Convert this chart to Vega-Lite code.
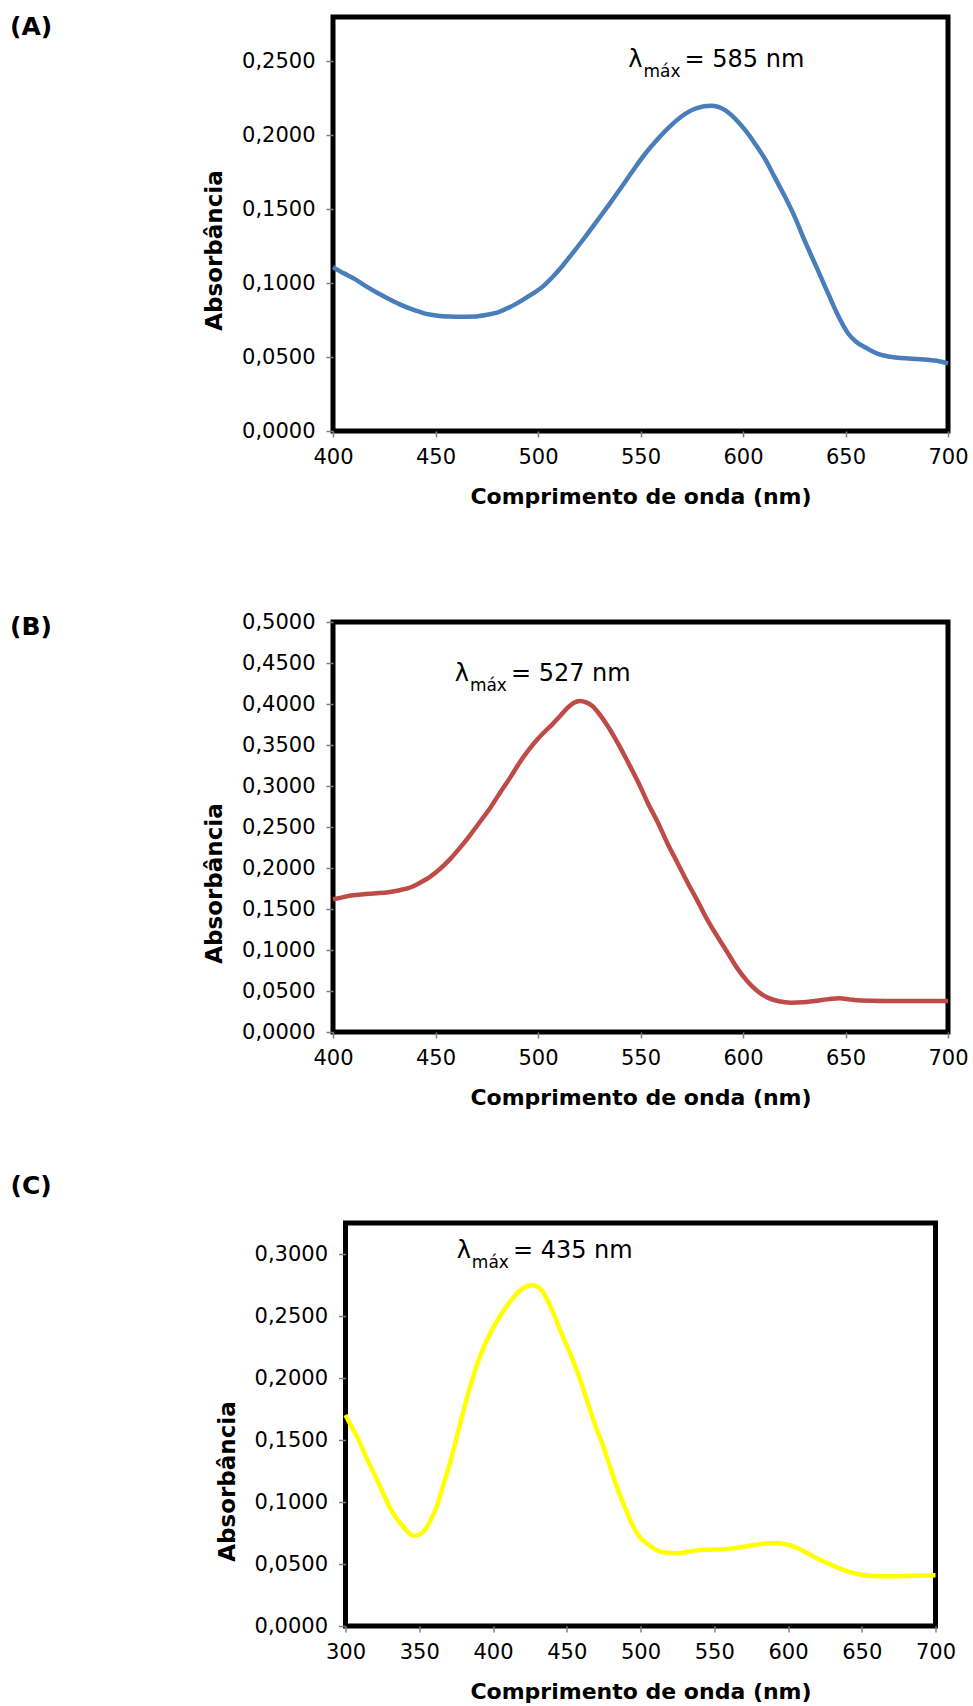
{
  "$schema": "https://vega.github.io/schema/vega-lite/v6.json",
  "background": "white",
  "padding": {"left": 7, "top": 12, "right": 0, "bottom": 0},
  "config": {
    "view": {"stroke": "black", "strokeWidth": 5},
    "axis": {
      "labelFont": "DejaVu Sans", "labelFontSize": 21, "labelColor": "#000",
      "titleFont": "DejaVu Sans", "titleFontWeight": "bold", "titleColor": "#000",
      "grid": false, "domain": false, "tickColor": "#808080", "tickWidth": 1.5,
      "labelFlush": false, "labelOverlap": false
    },
    "axisY": {"tickSize": 7, "labelPadding": 11, "titlePadding": 15, "titleFontSize": 23},
    "axisX": {"tickSize": 6, "labelPadding": 9, "titlePadding": 19, "titleFontSize": 22},
    "title": {"font": "DejaVu Sans", "fontSize": 25, "fontWeight": "bold", "anchor": "start", "frame": "group", "offset": 0, "baseline": "alphabetic", "color": "#000"}
  },
  "bounds": "flush",
  "center": true,
  "spacing": 191,
  "datasets": {
    "A": [
      {"wl":400,"abs":0.1109},{"wl":405,"abs":0.1068},{"wl":410.5,"abs":0.1029},{"wl":416,"abs":0.098},{"wl":422,"abs":0.0932},{"wl":428,"abs":0.0888},{"wl":434,"abs":0.0848},{"wl":440,"abs":0.0816},{"wl":445.5,"abs":0.0792},{"wl":451,"abs":0.078},{"wl":457,"abs":0.0774},{"wl":463,"abs":0.0772},{"wl":469,"abs":0.0774},{"wl":475,"abs":0.0786},{"wl":480.5,"abs":0.0803},{"wl":486,"abs":0.0836},{"wl":492,"abs":0.0882},{"wl":497,"abs":0.0925},{"wl":502,"abs":0.0973},{"wl":507,"abs":0.104},{"wl":511.5,"abs":0.1109},{"wl":517,"abs":0.1205},{"wl":523,"abs":0.1312},{"wl":529,"abs":0.1425},{"wl":535,"abs":0.1538},{"wl":541,"abs":0.1655},{"wl":546.5,"abs":0.1765},{"wl":552,"abs":0.187},{"wl":558,"abs":0.1968},{"wl":564,"abs":0.2055},{"wl":570,"abs":0.2127},{"wl":577.5,"abs":0.2183},{"wl":584.5,"abs":0.2199},{"wl":591,"abs":0.2172},{"wl":596,"abs":0.2115},{"wl":601,"abs":0.2036},{"wl":606,"abs":0.194},{"wl":611,"abs":0.1833},{"wl":615.5,"abs":0.1715},{"wl":620.5,"abs":0.1584},{"wl":625.5,"abs":0.144},{"wl":630,"abs":0.129},{"wl":634,"abs":0.1165},{"wl":638,"abs":0.1041},{"wl":642,"abs":0.0915},{"wl":646,"abs":0.0792},{"wl":651.5,"abs":0.0656},{"wl":655,"abs":0.0605},{"wl":659.5,"abs":0.0566},{"wl":663,"abs":0.054},{"wl":667,"abs":0.0516},{"wl":672,"abs":0.0502},{"wl":677,"abs":0.0493},{"wl":686.5,"abs":0.0486},{"wl":694.5,"abs":0.0475},{"wl":700,"abs":0.0457}
    ],
    "B": [
      {"wl":400,"abs":0.1618},{"wl":405,"abs":0.1645},{"wl":409.5,"abs":0.1667},{"wl":415,"abs":0.168},{"wl":421,"abs":0.1691},{"wl":427,"abs":0.1705},{"wl":433,"abs":0.1732},{"wl":438,"abs":0.1765},{"wl":442.5,"abs":0.1821},{"wl":447.5,"abs":0.1895},{"wl":452,"abs":0.1984},{"wl":457,"abs":0.2105},{"wl":462,"abs":0.2248},{"wl":467,"abs":0.2405},{"wl":472,"abs":0.2573},{"wl":477,"abs":0.2745},{"wl":481.5,"abs":0.2919},{"wl":486.5,"abs":0.3105},{"wl":491,"abs":0.3285},{"wl":495,"abs":0.3425},{"wl":499,"abs":0.3549},{"wl":503,"abs":0.3655},{"wl":507,"abs":0.3752},{"wl":511,"abs":0.386},{"wl":514.5,"abs":0.3955},{"wl":517.5,"abs":0.4015},{"wl":520.5,"abs":0.4037},{"wl":523.5,"abs":0.402},{"wl":526.5,"abs":0.3976},{"wl":530,"abs":0.3875},{"wl":534,"abs":0.3732},{"wl":539,"abs":0.352},{"wl":544,"abs":0.3285},{"wl":549,"abs":0.304},{"wl":553.5,"abs":0.2797},{"wl":558.5,"abs":0.2553},{"wl":563,"abs":0.2309},{"wl":568,"abs":0.2065},{"wl":573,"abs":0.1821},{"wl":578,"abs":0.159},{"wl":582.5,"abs":0.1374},{"wl":587.5,"abs":0.1165},{"wl":592.5,"abs":0.0967},{"wl":597,"abs":0.0785},{"wl":602,"abs":0.0622},{"wl":607,"abs":0.05},{"wl":612,"abs":0.0419},{"wl":617.5,"abs":0.0375},{"wl":623.5,"abs":0.0358},{"wl":629,"abs":0.0362},{"wl":635,"abs":0.0378},{"wl":641,"abs":0.0398},{"wl":647,"abs":0.0411},{"wl":652,"abs":0.0398},{"wl":656.5,"abs":0.0386},{"wl":663,"abs":0.038},{"wl":670,"abs":0.0378},{"wl":685,"abs":0.0378},{"wl":700,"abs":0.0378}
    ],
    "C": [
      {"wl":300,"abs":0.1701},{"wl":304,"abs":0.161},{"wl":308.5,"abs":0.1511},{"wl":313.5,"abs":0.1375},{"wl":319,"abs":0.1239},{"wl":324,"abs":0.111},{"wl":329,"abs":0.0981},{"wl":333,"abs":0.0895},{"wl":337,"abs":0.0832},{"wl":341,"abs":0.0775},{"wl":346,"abs":0.0728},{"wl":350,"abs":0.0738},{"wl":354,"abs":0.0777},{"wl":358,"abs":0.086},{"wl":362,"abs":0.0967},{"wl":366,"abs":0.1125},{"wl":371,"abs":0.1321},{"wl":376,"abs":0.155},{"wl":381,"abs":0.1783},{"wl":385.5,"abs":0.197},{"wl":390,"abs":0.2136},{"wl":394.5,"abs":0.227},{"wl":399,"abs":0.238},{"wl":404,"abs":0.2485},{"wl":409.5,"abs":0.2584},{"wl":415,"abs":0.2665},{"wl":420,"abs":0.272},{"wl":426.5,"abs":0.2747},{"wl":433,"abs":0.2707},{"wl":438,"abs":0.26},{"wl":443,"abs":0.2462},{"wl":448,"abs":0.2315},{"wl":453.5,"abs":0.2163},{"wl":459,"abs":0.199},{"wl":464,"abs":0.181},{"wl":469,"abs":0.163},{"wl":474.5,"abs":0.1457},{"wl":479.5,"abs":0.128},{"wl":484.5,"abs":0.1103},{"wl":490,"abs":0.094},{"wl":495,"abs":0.0804},{"wl":500,"abs":0.071},{"wl":505.5,"abs":0.0655},{"wl":510.5,"abs":0.0615},{"wl":516,"abs":0.0592},{"wl":526,"abs":0.0587},{"wl":534,"abs":0.0603},{"wl":542,"abs":0.0614},{"wl":557,"abs":0.062},{"wl":568,"abs":0.0635},{"wl":578,"abs":0.0655},{"wl":586,"abs":0.0667},{"wl":593.5,"abs":0.0668},{"wl":600,"abs":0.0655},{"wl":606.5,"abs":0.0628},{"wl":613,"abs":0.0588},{"wl":619.5,"abs":0.0546},{"wl":627,"abs":0.0505},{"wl":635,"abs":0.0465},{"wl":641,"abs":0.0438},{"wl":648,"abs":0.0418},{"wl":655,"abs":0.0406},{"wl":661,"abs":0.0402},{"wl":676,"abs":0.0402},{"wl":689,"abs":0.0408},{"wl":700,"abs":0.041}
    ],
    "annA": [{"wl": 571.5, "abs": 0.246, "label": "= 585 nm"}],
    "annB": [{"wl": 486.8, "abs": 0.428, "label": "= 527 nm"}],
    "annC": [{"wl": 413.5, "abs": 0.2965, "label": "= 435 nm"}]
  },
  "vconcat": [
    {
      "width": 615, "height": 414,
      "title": {"text": "(A)", "dx": -323, "dy": 27},
      "layer": [
        {
          "data": {"name": "A"},
          "mark": {"type": "line", "color": "#4A7EBB", "strokeWidth": 4.5, "interpolate": "monotone"},
          "encoding": {
            "x": {"field": "wl", "type": "quantitative", "scale": {"domain": [400, 700], "nice": false, "zero": false},
                  "axis": {"title": "Comprimento de onda (nm)", "values": [400, 450, 500, 550, 600, 650, 700], "format": "d"}},
            "y": {"field": "abs", "type": "quantitative", "scale": {"domain": [0, 0.28], "nice": false},
                  "axis": {"title": "Absorbância", "titleY": 233, "values": [0, 0.05, 0.1, 0.15, 0.2, 0.25], "labelExpr": "replace(format(datum.value, '.4f'), '.', ',')"}}
          }
        },
        {
          "data": {"name": "annA"},
          "encoding": {"x": {"field": "wl", "type": "quantitative"}, "y": {"field": "abs", "type": "quantitative"}},
          "layer": [
            {"mark": {"type": "text", "text": "λ", "align": "right", "baseline": "alphabetic", "dx": -42, "font": "DejaVu Sans", "fontSize": 24, "color": "#000"}},
            {"mark": {"type": "text", "text": "máx", "align": "right", "baseline": "alphabetic", "dx": -4, "dy": 10, "font": "DejaVu Sans", "fontSize": 17, "color": "#000"}},
            {"mark": {"type": "text", "align": "left", "baseline": "alphabetic", "font": "DejaVu Sans", "fontSize": 24, "color": "#000"}, "encoding": {"text": {"field": "label"}}}
          ]
        }
      ]
    },
    {
      "width": 615, "height": 410,
      "title": {"text": "(B)", "dx": -323, "dy": 33},
      "layer": [
        {
          "data": {"name": "B"},
          "mark": {"type": "line", "color": "#BE4B48", "strokeWidth": 4.5, "interpolate": "monotone"},
          "encoding": {
            "x": {"field": "wl", "type": "quantitative", "scale": {"domain": [400, 700], "nice": false, "zero": false},
                  "axis": {"title": "Comprimento de onda (nm)", "values": [400, 450, 500, 550, 600, 650, 700], "format": "d"}},
            "y": {"field": "abs", "type": "quantitative", "scale": {"domain": [0, 0.5], "nice": false},
                  "axis": {"title": "Absorbância", "titleY": 261, "values": [0, 0.05, 0.1, 0.15, 0.2, 0.25, 0.3, 0.35, 0.4, 0.45, 0.5], "labelExpr": "replace(format(datum.value, '.4f'), '.', ',')"}}
          }
        },
        {
          "data": {"name": "annB"},
          "encoding": {"x": {"field": "wl", "type": "quantitative"}, "y": {"field": "abs", "type": "quantitative"}},
          "layer": [
            {"mark": {"type": "text", "text": "λ", "align": "right", "baseline": "alphabetic", "dx": -42, "font": "DejaVu Sans", "fontSize": 24, "color": "#000"}},
            {"mark": {"type": "text", "text": "máx", "align": "right", "baseline": "alphabetic", "dx": -4, "dy": 10, "font": "DejaVu Sans", "fontSize": 17, "color": "#000"}},
            {"mark": {"type": "text", "align": "left", "baseline": "alphabetic", "font": "DejaVu Sans", "fontSize": 24, "color": "#000"}, "encoding": {"text": {"field": "label"}}}
          ]
        }
      ]
    },
    {
      "width": 590, "height": 403,
      "title": {"text": "(C)", "dx": -335, "dy": -20},
      "layer": [
        {
          "data": {"name": "C"},
          "mark": {"type": "line", "color": "#FFFF00", "strokeWidth": 4.5, "interpolate": "monotone"},
          "encoding": {
            "x": {"field": "wl", "type": "quantitative", "scale": {"domain": [300, 700], "nice": false, "zero": false},
                  "axis": {"title": "Comprimento de onda (nm)", "values": [300, 350, 400, 450, 500, 550, 600, 650, 700], "format": "d"}},
            "y": {"field": "abs", "type": "quantitative", "scale": {"domain": [0, 0.325], "nice": false},
                  "axis": {"title": "Absorbância", "titleY": 258, "values": [0, 0.05, 0.1, 0.15, 0.2, 0.25, 0.3], "labelExpr": "replace(format(datum.value, '.4f'), '.', ',')"}}
          }
        },
        {
          "data": {"name": "annC"},
          "encoding": {"x": {"field": "wl", "type": "quantitative"}, "y": {"field": "abs", "type": "quantitative"}},
          "layer": [
            {"mark": {"type": "text", "text": "λ", "align": "right", "baseline": "alphabetic", "dx": -42, "font": "DejaVu Sans", "fontSize": 24, "color": "#000"}},
            {"mark": {"type": "text", "text": "máx", "align": "right", "baseline": "alphabetic", "dx": -4, "dy": 10, "font": "DejaVu Sans", "fontSize": 17, "color": "#000"}},
            {"mark": {"type": "text", "align": "left", "baseline": "alphabetic", "font": "DejaVu Sans", "fontSize": 24, "color": "#000"}, "encoding": {"text": {"field": "label"}}}
          ]
        }
      ]
    }
  ]
}
